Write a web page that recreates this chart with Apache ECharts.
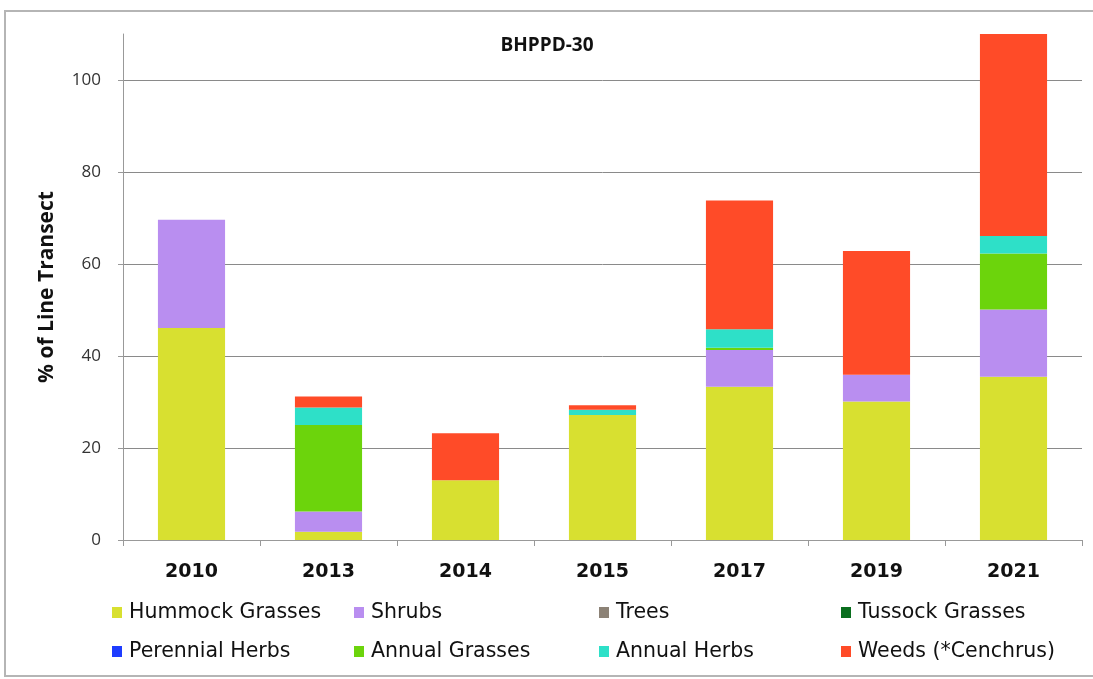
<!DOCTYPE html>
<html>
<head>
<meta charset="utf-8">
<script src="https://cdn.jsdelivr.net/npm/echarts@6/dist/echarts.min.js"></script>
<style>html,body{margin:0;padding:0;background:#fff;}#c{width:1093px;height:679px;}</style>
</head>
<body>
<div id="c"></div>
<script>
const years = ['2010', '2013', '2014', '2015', '2017', '2019', '2021'];
const hummockGrasses = [46.1, 1.8, 13.0, 27.2, 33.3, 30.1, 35.5];
const shrubs = [23.5, 4.4, 0, 0, 8.0, 5.8, 14.6];
const trees = [0, 0, 0, 0, 0, 0, 0];
const tussockGrasses = [0, 0, 0, 0, 0, 0, 0];
const perennialHerbs = [0, 0, 0, 0, 0, 0, 0];
const annualGrasses = [0, 18.8, 0, 0, 0.5, 0, 12.2];
const annualHerbs = [0, 3.8, 0, 1.1, 4.0, 0, 3.8];
const weeds = [0, 2.4, 10.2, 1.0, 28.0, 26.9, 43.9];
const seriesNames = ['Hummock Grasses', 'Shrubs', 'Trees', 'Tussock Grasses', 'Perennial Herbs', 'Annual Grasses', 'Annual Herbs', 'Weeds (*Cenchrus)'];
const seriesData = [hummockGrasses, shrubs, trees, tussockGrasses, perennialHerbs, annualGrasses, annualHerbs, weeds];
const colors = ['#d8e030', '#b98ef0', '#8c8276', '#0a6e1e', '#1e3cff', '#6cd40c', '#2ee0c8', '#ff4b28'];

const legendLeft = [112, 354, 599, 841];
const legendTop = [602, 641];

const chart = echarts.init(document.getElementById('c'), null, {renderer: 'canvas'});
const legends = seriesNames.map((n, i) => ({
  data: [n],
  left: legendLeft[i % 4],
  top: legendTop[Math.floor(i / 4)],
  padding: 0,
  itemWidth: 10,
  itemHeight: 11,
  itemGap: 0,
  icon: 'rect',
  selectedMode: false,
  textStyle: {fontFamily: 'DejaVu Sans', fontSize: 20.5, color: '#111', padding: [0, 0, 0, 2]}
}));

chart.setOption({
  animation: false,
  backgroundColor: '#fff',
  color: colors,
  title: {
    text: 'BHPPD-30', left: 542, top: 31, textAlign: 'center',
    textStyle: {fontFamily: 'Open Sans', fontWeight: 'bold', fontSize: 19, color: '#111'}
  },
  legend: legends,
  grid: {left: 123, right: 11, top: 34, bottom: 139},
  xAxis: {
    type: 'category', data: years,
    axisLine: {lineStyle: {color: '#999', width: 1}},
    axisTick: {show: true, length: 6, lineStyle: {color: '#999'}},
    axisLabel: {fontFamily: 'DejaVu Sans', fontWeight: 'bold', fontSize: 19, color: '#111', margin: 23}
  },
  yAxis: {
    type: 'value', min: 0, max: 110, interval: 20,
    name: '% of Line Transect', nameLocation: 'middle', nameGap: 65,
    nameTextStyle: {fontFamily: 'Open Sans', fontWeight: 'bold', fontSize: 21, color: '#111'},
    axisLine: {show: true, lineStyle: {color: '#999', width: 1}},
    axisTick: {show: true, length: 5, lineStyle: {color: '#999'}},
    axisLabel: {fontFamily: 'Open Sans', fontSize: 17, color: '#333', margin: 22, showMaxLabel: false},
    splitLine: {show: true, lineStyle: {color: ['#8a8a8a', '#8a8a8a', '#8a8a8a', '#8a8a8a', '#8a8a8a', '#8a8a8a', 'rgba(0,0,0,0)'], width: 1}}
  },
  series: seriesNames.map((n, i) => ({
    name: n, type: 'bar', stack: 'total', data: seriesData[i],
    barWidth: '49%',
    itemStyle: {color: colors[i]}
  })),
  graphic: [{
    type: 'rect', shape: {x: 5, y: 11, width: 1092, height: 665},
    style: {fill: 'none', stroke: '#b5b5b5', lineWidth: 2}, silent: true, z: 100
  }]
});
</script>
</body>
</html>
